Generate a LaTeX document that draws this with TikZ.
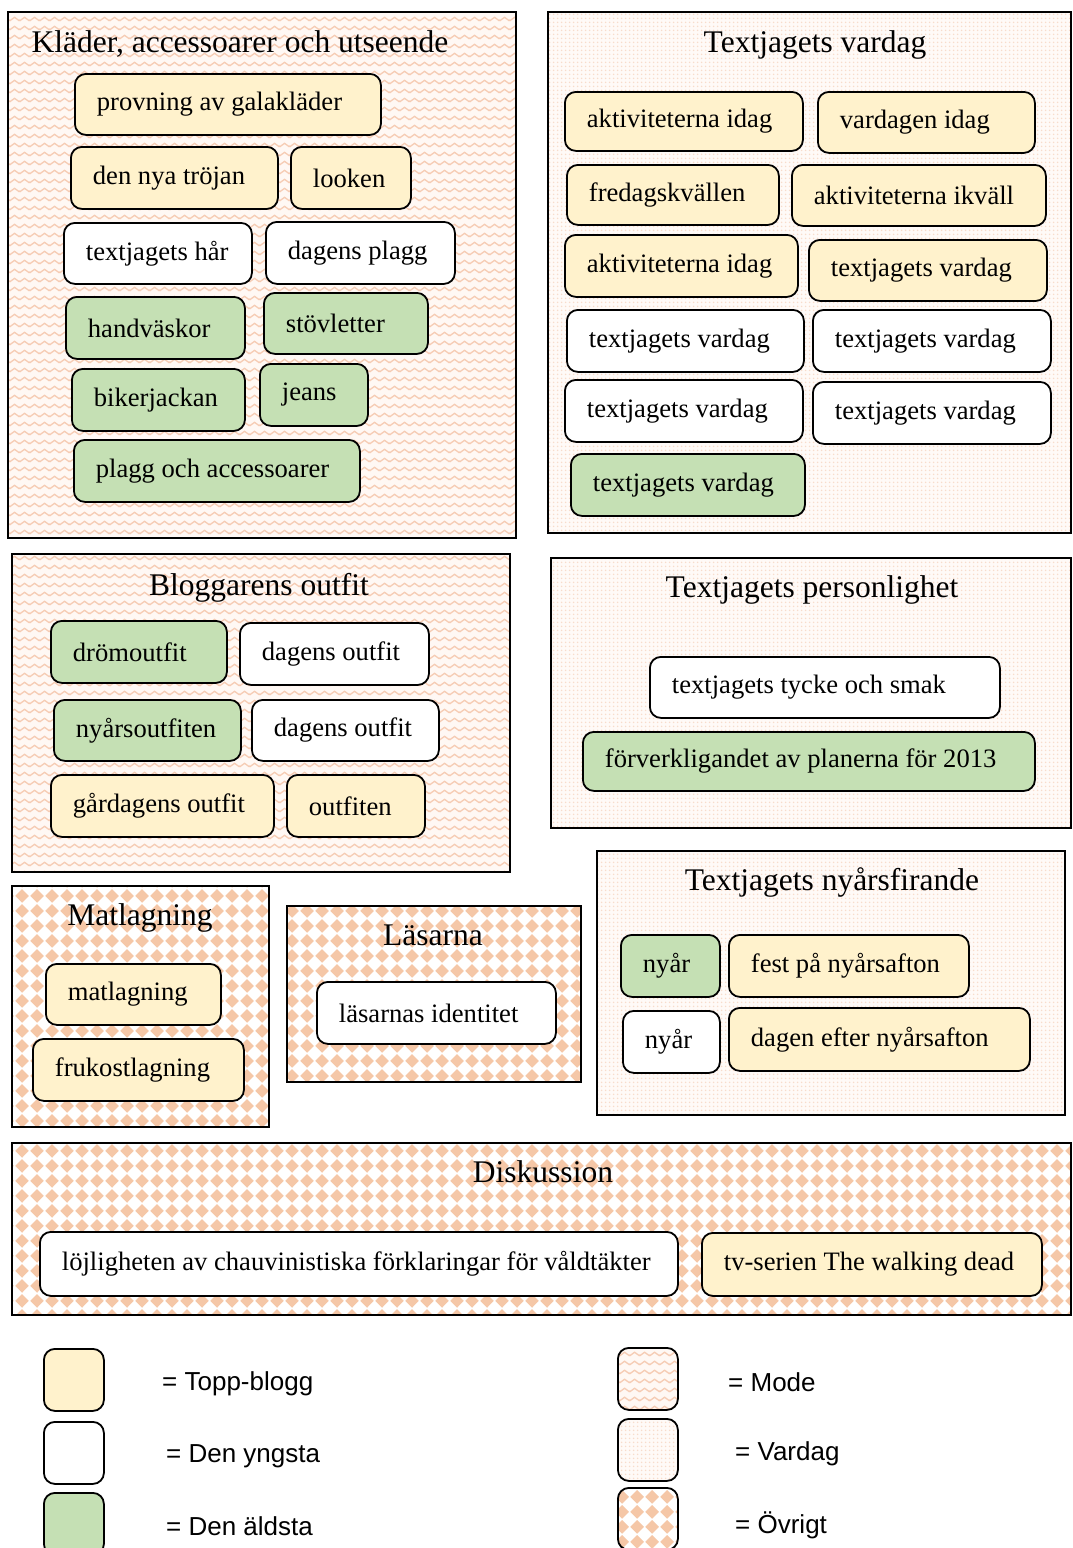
\documentclass[tikz,border=0pt]{standalone}
\usepackage{fontspec}
\setmainfont{Liberation Serif}
\setsansfont{Liberation Sans}
\usetikzlibrary{patterns}

\definecolor{gul}{HTML}{FFF2CC}
\definecolor{gron}{HTML}{C5E0B4}
\definecolor{lax}{HTML}{F5C7A7}
\definecolor{laxljus}{HTML}{F6CCB4}
\definecolor{laxprick}{HTML}{F8DCCB}
\definecolor{modebg}{HTML}{FFF8F4}
\definecolor{vardagbg}{HTML}{FFFAF7}

% monster for kategorierna
\pgfdeclarepatternformonly{zickzack}{\pgfqpoint{0pt}{0pt}}{\pgfqpoint{10pt}{8.5pt}}{\pgfqpoint{10pt}{8.5pt}}{%
  \pgfsetlinewidth{1.4pt}%
  \pgfpathmoveto{\pgfqpoint{-5pt}{6pt}}%
  \pgfpathlineto{\pgfqpoint{0pt}{2.5pt}}%
  \pgfpathlineto{\pgfqpoint{5pt}{6pt}}%
  \pgfpathlineto{\pgfqpoint{10pt}{2.5pt}}%
  \pgfpathlineto{\pgfqpoint{15pt}{6pt}}%
  \pgfusepath{stroke}}
\pgfdeclarepatternformonly{prickar}{\pgfqpoint{0pt}{0pt}}{\pgfqpoint{4pt}{4pt}}{\pgfqpoint{4pt}{4pt}}{%
  \pgfpathcircle{\pgfqpoint{2pt}{2pt}}{1pt}%
  \pgfusepath{fill}}
\pgfdeclarepatternformonly{ruter}{\pgfqpoint{0pt}{0pt}}{\pgfqpoint{15pt}{15pt}}{\pgfqpoint{15pt}{15pt}}{%
  \pgfpathmoveto{\pgfqpoint{7.5pt}{0.3pt}}%
  \pgfpathlineto{\pgfqpoint{14.7pt}{7.5pt}}%
  \pgfpathlineto{\pgfqpoint{7.5pt}{14.7pt}}%
  \pgfpathlineto{\pgfqpoint{0.3pt}{7.5pt}}%
  \pgfpathclose
  \pgfusepath{fill}}

\tikzset{
  mode/.style={preaction={fill=modebg}, pattern=zickzack, pattern color=laxljus},
  vardag/.style={preaction={fill=vardagbg}, pattern=prickar, pattern color=laxprick},
  ovrigt/.style={preaction={fill=white}, pattern=ruter, pattern color=lax},
  grupp/.style={draw=black, line width=1.6pt},
  rubrik/.style={anchor=base, inner sep=0pt, font=\fontsize{31.5}{36}\selectfont},
  ruta/.style={draw=black, line width=1.8pt, rounded corners=11pt, anchor=north west,
    inner xsep=22pt, font=\fontsize{26.6}{32}\selectfont},
  bw/.code={\pgfmathsetmacro\rutabredd{#1-44}%
    \tikzset{execute at begin node={\hbox to \rutabredd pt\bgroup},
             execute at end node={\hss\egroup}}},
  storlek/.style 2 args={bw=#1, minimum height=#2},
  topp/.style={ruta, fill=gul},
  ung/.style={ruta, fill=white},
  aldst/.style={ruta, fill=gron},
  swatch/.style={ruta, minimum width=60pt, minimum height=62pt, inner sep=0pt},
  forklaring/.style={anchor=base west, inner sep=0pt, font=\sffamily\fontsize{26}{30}\selectfont}
}

\begin{document}
\begin{tikzpicture}[x=1pt,y=-1pt]
  \useasboundingbox (0,0) rectangle (1072,1548);

  % grupper
  \draw[grupp, mode] (8,12) rectangle (516,538);
  \draw[grupp, vardag] (548,12) rectangle (1071,533);
  \draw[grupp, mode] (12,554) rectangle (510,872);
  \draw[grupp, vardag] (551,558) rectangle (1071,828);
  \draw[grupp, ovrigt] (12,886) rectangle (269,1127);
  \draw[grupp, ovrigt] (287,906) rectangle (581,1082);
  \draw[grupp, vardag] (597,851) rectangle (1065,1115);
  \draw[grupp, ovrigt] (12,1143) rectangle (1071,1315);

  % Kläder, accessoarer och utseende
  \node[rubrik] (kladrub) at (240,52) {Kläder, accessoarer och utseende};
  \node[topp, storlek={306}{61}] (galaklader) at (74,73) {provning av galakläder};
  \node[topp, storlek={207}{62}] (trojan) at (70,146) {den nya tröjan};
  \node[topp, storlek={120}{62}] (looken) at (290,146) {looken};
  \node[ung, storlek={188}{61}] (har) at (63,222) {textjagets hår};
  \node[ung, storlek={189}{62}] (plagg) at (265,221) {dagens plagg};
  \node[aldst, storlek={179}{62}] (vaskor) at (65,296) {handväskor};
  \node[aldst, storlek={164}{61}] (stovletter) at (263,292) {stövletter};
  \node[aldst, storlek={173}{62}] (biker) at (71,368) {bikerjackan};
  \node[aldst, storlek={108}{62}] (jeans) at (259,363) {jeans};
  \node[aldst, storlek={286}{62}] (accessoarer) at (73,439) {plagg och accessoarer};

  % Textjagets vardag
  \node[rubrik] (vardagrub) at (815,52) {Textjagets vardag};
  \node[topp, storlek={238}{59}] (idag1) at (564,91) {aktiviteterna idag};
  \node[topp, storlek={217}{61}] (vardagen) at (817,91) {vardagen idag};
  \node[topp, storlek={212}{60}] (fredag) at (566,164) {fredagskvällen};
  \node[topp, storlek={254}{61}] (ikvall) at (791,164) {aktiviteterna ikväll};
  \node[topp, storlek={233}{62}] (idag2) at (564,234) {aktiviteterna idag};
  \node[topp, storlek={238}{61}] (vardag1) at (808,239) {textjagets vardag};
  \node[ung, storlek={237}{62}] (vardag2) at (566,309) {textjagets vardag};
  \node[ung, storlek={238}{62}] (vardag3) at (812,309) {textjagets vardag};
  \node[ung, storlek={238}{62}] (vardag4) at (564,379) {textjagets vardag};
  \node[ung, storlek={238}{62}] (vardag5) at (812,381) {textjagets vardag};
  \node[aldst, storlek={234}{62}] (vardag6) at (570,453) {textjagets vardag};

  % Bloggarens outfit
  \node[rubrik] (outfitrub) at (259,595) {Bloggarens outfit};
  \node[aldst, storlek={176}{62}] (drom) at (50,620) {drömoutfit};
  \node[ung, storlek={189}{62}] (dagens1) at (239,622) {dagens outfit};
  \node[aldst, storlek={187}{61}] (nyarsout) at (53,699) {nyårsoutfiten};
  \node[ung, storlek={187}{61}] (dagens2) at (251,699) {dagens outfit};
  \node[topp, storlek={223}{62}] (gardagens) at (50,774) {gårdagens outfit};
  \node[topp, storlek={138}{62}] (outfiten) at (286,774) {outfiten};

  % Textjagets personlighet
  \node[rubrik] (personrub) at (812,597) {Textjagets personlighet};
  \node[ung, storlek={350}{61}] (tycke) at (649,656) {textjagets tycke och smak};
  \node[aldst, storlek={452}{59}] (planer) at (582,731) {förverkligandet av planerna för 2013};

  % Matlagning
  \node[rubrik] (matrub) at (140,925) {Matlagning};
  \node[topp, storlek={175}{61}] (matlagning) at (45,963) {matlagning};
  \node[topp, storlek={211}{62}] (frukost) at (32,1038) {frukostlagning};

  % Läsarna
  \node[rubrik] (lasrub) at (433,945) {Läsarna};
  \node[ung, storlek={239}{62}] (identitet) at (316,981) {läsarnas identitet};

  % Textjagets nyårsfirande
  \node[rubrik] (nyarrub) at (832,890) {Textjagets nyårsfirande};
  \node[aldst, storlek={99}{62}] (nyar1) at (620,934) {nyår};
  \node[topp, storlek={240}{62}] (fest) at (728,934) {fest på nyårsafton};
  \node[ung, storlek={97}{62}] (nyar2) at (622,1010) {nyår};
  \node[topp, storlek={301}{63}] (dagenefter) at (728,1007) {dagen efter nyårsafton};

  % Diskussion
  \node[rubrik] (diskrub) at (543,1182) {Diskussion};
  \node[ung, storlek={638}{64}] (vadtakter) at (39,1231) {löjligheten av chauvinistiska förklaringar för våldtäkter};
  \node[topp, storlek={340}{63}] (walking) at (701,1232) {tv-serien The walking dead};

  % förklaring
  \node[swatch, fill=gul] (lgtopp) at (43,1348) {};
  \node[swatch, fill=white] (lgung) at (43,1421) {};
  \node[swatch, fill=gron] (lgaldst) at (43,1492) {};
  \node[swatch, mode] (lgmode) at (617,1347) {};
  \node[swatch, vardag] (lgvardag) at (617,1418) {};
  \node[swatch, ovrigt] (lgovrigt) at (617,1487) {};
  \node[forklaring] (fttopp) at (162,1390) {= Topp-blogg};
  \node[forklaring] (ftung) at (166,1462) {= Den yngsta};
  \node[forklaring] (ftaldst) at (166,1535) {= Den äldsta};
  \node[forklaring] (ftmode) at (728,1391) {= Mode};
  \node[forklaring] (ftvardag) at (735,1460) {= Vardag};
  \node[forklaring] (ftovrigt) at (735,1533) {= Övrigt};
\end{tikzpicture}
\end{document}
